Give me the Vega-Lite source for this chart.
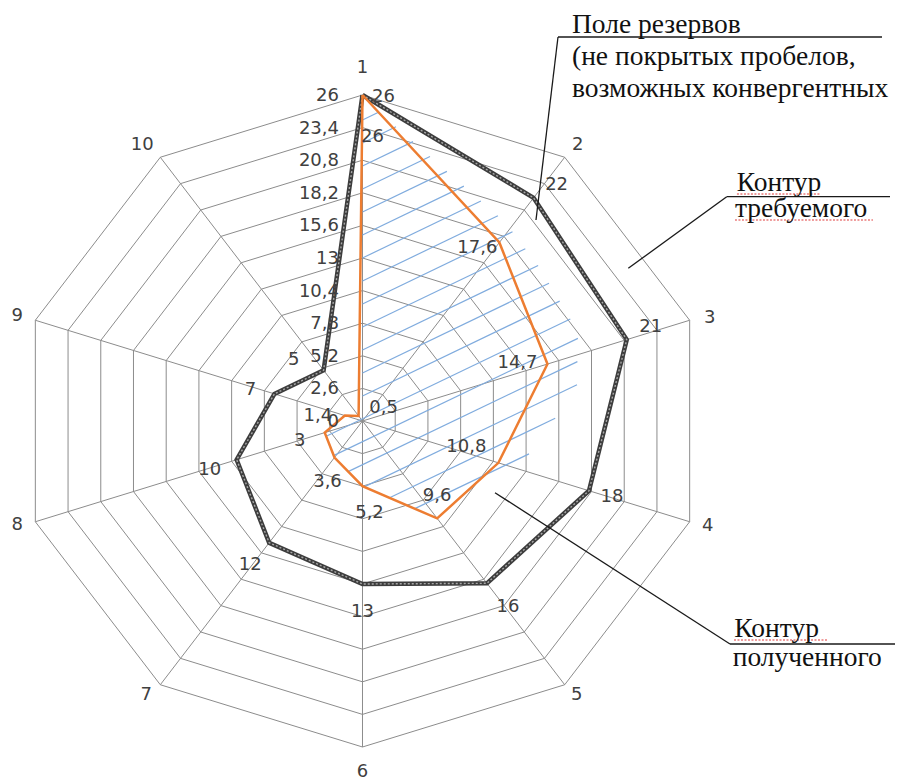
{
  "$schema": "https://vega.github.io/schema/vega-lite/v6.json",
  "width": 905,
  "height": 781,
  "padding": 0,
  "autosize": {"type": "none"},
  "background": "white",
  "config": {
    "view": {"stroke": null},
    "locale": {"number": {"decimal": ",", "thousands": " ", "grouping": [3], "currency": ["", ""]}},
    "text": {"fontSize": 18, "fill": "#404040", "align": "center", "baseline": "middle"}
  },
  "datasets": {
    "series": [
      {"s": "req", "k": 1, "v": 26}, {"s": "req", "k": 2, "v": 22}, {"s": "req", "k": 3, "v": 21},
      {"s": "req", "k": 4, "v": 18}, {"s": "req", "k": 5, "v": 16}, {"s": "req", "k": 6, "v": 13},
      {"s": "req", "k": 7, "v": 12}, {"s": "req", "k": 8, "v": 10}, {"s": "req", "k": 9, "v": 7},
      {"s": "req", "k": 10, "v": 5}, {"s": "req", "k": 11, "v": 26},
      {"s": "got", "k": 1, "v": 26}, {"s": "got", "k": 2, "v": 17.6}, {"s": "got", "k": 3, "v": 14.7},
      {"s": "got", "k": 4, "v": 10.8}, {"s": "got", "k": 5, "v": 9.6}, {"s": "got", "k": 6, "v": 5.2},
      {"s": "got", "k": 7, "v": 3.6}, {"s": "got", "k": 8, "v": 3}, {"s": "got", "k": 9, "v": 1.4},
      {"s": "got", "k": 10, "v": 0.5}, {"s": "got", "k": 11, "v": 26}
    ],
    "rings": [
      {"ring": 2.6, "k": [1,2,3,4,5,6,7,8,9,10,11]}, {"ring": 5.2, "k": [1,2,3,4,5,6,7,8,9,10,11]},
      {"ring": 7.8, "k": [1,2,3,4,5,6,7,8,9,10,11]}, {"ring": 10.4, "k": [1,2,3,4,5,6,7,8,9,10,11]},
      {"ring": 13, "k": [1,2,3,4,5,6,7,8,9,10,11]}, {"ring": 15.6, "k": [1,2,3,4,5,6,7,8,9,10,11]},
      {"ring": 18.2, "k": [1,2,3,4,5,6,7,8,9,10,11]}, {"ring": 20.8, "k": [1,2,3,4,5,6,7,8,9,10,11]},
      {"ring": 23.4, "k": [1,2,3,4,5,6,7,8,9,10,11]}, {"ring": 26, "k": [1,2,3,4,5,6,7,8,9,10,11]}
    ],
    "axes": [
      {"k": 1, "t": "1"}, {"k": 2, "t": "2"}, {"k": 3, "t": "3"}, {"k": 4, "t": "4"}, {"k": 5, "t": "5"},
      {"k": 6, "t": "6"}, {"k": 7, "t": "7"}, {"k": 8, "t": "8"}, {"k": 9, "t": "9"}, {"k": 10, "t": "10"}
    ],
    "ticks": [
      {"v": 0}, {"v": 2.6}, {"v": 5.2}, {"v": 7.8}, {"v": 10.4}, {"v": 13},
      {"v": 15.6}, {"v": 18.2}, {"v": 20.8}, {"v": 23.4}, {"v": 26}
    ],
    "hatch": [
      {"x": 0, "y": 24.01, "x2": 1.247, "y2": 24.65},
      {"x": 0, "y": 22.17, "x2": 2.532, "y2": 23.47},
      {"x": 0, "y": 20.34, "x2": 3.817, "y2": 22.28},
      {"x": 0, "y": 18.50, "x2": 5.102, "y2": 21.10},
      {"x": 0, "y": 16.67, "x2": 6.379, "y2": 19.91},
      {"x": 0, "y": 14.83, "x2": 7.664, "y2": 18.73},
      {"x": 0, "y": 13.00, "x2": 8.949, "y2": 17.55},
      {"x": 0, "y": 11.17, "x2": 10.234, "y2": 16.37},
      {"x": 0, "y": 9.331, "x2": 11.337, "y2": 15.09},
      {"x": 0, "y": 7.497, "x2": 12.305, "y2": 13.74},
      {"x": 0, "y": 5.663, "x2": 13.272, "y2": 12.40},
      {"x": 0, "y": 3.828, "x2": 14.096, "y2": 10.99},
      {"x": 0, "y": 1.994, "x2": 14.905, "y2": 9.562},
      {"x": -2.744, "y": -1.212, "x2": 15.706, "y2": 8.135},
      {"x": -2.192, "y": -2.759, "x2": 16.280, "y2": 6.588},
      {"x": -1.088, "y": -4.036, "x2": 16.242, "y2": 4.737},
      {"x": 0.128, "y": -5.256, "x2": 16.212, "y2": 2.887},
      {"x": 2.048, "y": -6.125, "x2": 14.565, "y2": 0.215},
      {"x": 3.960, "y": -6.986, "x2": 12.584, "y2": -2.624}
    ],
    "leaders": [
      {"x": 13.113, "y": 16.031, "x2": 14.776, "y2": 30.626},
      {"x": 14.776, "y": 30.626, "x2": 39.264, "y2": 30.626},
      {"x": 20.089, "y": 12.178, "x2": 27.527, "y2": 17.889},
      {"x": 27.527, "y": 17.889, "x2": 39.869, "y2": 17.889},
      {"x": 10.014, "y": -5.718, "x2": 27.776, "y2": -17.785},
      {"x": 27.776, "y": -17.785, "x2": 40.247, "y2": -17.785}
    ],
    "squiggles": [
      {"x": 28.30, "y": 18.104, "x2": 34.58, "y2": 18.104},
      {"x": 28.15, "y": 16.031, "x2": 38.58, "y2": 16.031},
      {"x": 28.078, "y": -17.466, "x2": 35.107, "y2": -17.466}
    ],
    "notes": [
      {"x": 15.834, "y": 30.944, "text": "Поле резервов"},
      {"x": 15.834, "y": 28.392, "text": "(не покрытых пробелов,"},
      {"x": 15.834, "y": 25.840, "text": "возможных конвергентных"},
      {"x": 28.282, "y": 18.367, "text": "Контур"},
      {"x": 28.154, "y": 16.294, "text": "требуемого"},
      {"x": 28.101, "y": -17.203, "text": "Контур"},
      {"x": 27.980, "y": -19.540, "text": "полученного"}
    ]
  },
  "encoding": {
    "x": {"field": "x", "type": "quantitative", "scale": {"domain": [-27.398, 41.003], "nice": false, "zero": false}, "axis": null},
    "y": {"field": "y", "type": "quantitative", "scale": {"domain": [-28.712, 33.577], "nice": false, "zero": false}, "axis": null}
  },
  "layer": [
    {"data": {"name": "rings"}, "transform": [{"flatten": ["k"]}, {"calculate": "datum.ring*sin((datum.k-1)*PI/5)", "as": "x"}, {"calculate": "datum.ring*cos((datum.k-1)*PI/5)", "as": "y"}],
     "mark": {"type": "line", "stroke": "#8c8c8c", "strokeWidth": 1},
     "encoding": {"detail": {"field": "ring"}, "order": {"field": "k", "type": "quantitative"}}},
    {"data": {"name": "axes"}, "transform": [{"calculate": "0", "as": "x"}, {"calculate": "0", "as": "y"}, {"calculate": "26*sin((datum.k-1)*PI/5)", "as": "x2"}, {"calculate": "26*cos((datum.k-1)*PI/5)", "as": "y2"}],
     "mark": {"type": "rule", "stroke": "#8c8c8c", "strokeWidth": 1},
     "encoding": {"x2": {"field": "x2"}, "y2": {"field": "y2"}}},
    {"data": {"name": "hatch"}, "mark": {"type": "rule", "stroke": "#80acde", "strokeWidth": 1.2},
     "encoding": {"x2": {"field": "x2"}, "y2": {"field": "y2"}}},
    {"data": {"name": "series"}, "transform": [{"filter": "datum.s=='req'"}, {"calculate": "datum.v*sin((datum.k-1)*PI/5)", "as": "x"}, {"calculate": "datum.v*cos((datum.k-1)*PI/5)", "as": "y"}],
     "mark": {"type": "line", "stroke": "#3d3d3d", "strokeWidth": 4.5, "strokeJoin": "miter"},
     "encoding": {"order": {"field": "k", "type": "quantitative"}}},
    {"data": {"name": "series"}, "transform": [{"filter": "datum.s=='req'"}, {"calculate": "datum.v*sin((datum.k-1)*PI/5)", "as": "x"}, {"calculate": "datum.v*cos((datum.k-1)*PI/5)", "as": "y"}],
     "mark": {"type": "line", "stroke": "#a8a8a8", "strokeWidth": 1.4, "strokeDash": [2, 2]},
     "encoding": {"order": {"field": "k", "type": "quantitative"}}},
    {"data": {"name": "series"}, "transform": [{"filter": "datum.s=='got'"}, {"calculate": "datum.v*sin((datum.k-1)*PI/5)", "as": "x"}, {"calculate": "datum.v*cos((datum.k-1)*PI/5)", "as": "y"}],
     "mark": {"type": "line", "stroke": "#ED7D31", "strokeWidth": 2.5},
     "encoding": {"order": {"field": "k", "type": "quantitative"}}},
    {"data": {"name": "leaders"}, "mark": {"type": "rule", "stroke": "#1a1a1a", "strokeWidth": 1.3},
     "encoding": {"x2": {"field": "x2"}, "y2": {"field": "y2"}}},
    {"data": {"name": "squiggles"}, "mark": {"type": "rule", "stroke": "#e03a3a", "strokeWidth": 1.2, "strokeDash": [2, 1.5]},
     "encoding": {"x2": {"field": "x2"}, "y2": {"field": "y2"}}},
    {"data": {"name": "notes"}, "mark": {"type": "text", "font": "Liberation Serif", "fontSize": 27.5, "fill": "#111111", "align": "left", "baseline": "alphabetic"},
     "encoding": {"text": {"field": "text"}}},
    {"data": {"name": "ticks"}, "transform": [{"calculate": "0", "as": "x"}, {"calculate": "datum.v", "as": "y"}],
     "mark": {"type": "text", "font": "DejaVu Sans", "align": "right", "dx": -23.5, "dy": 1},
     "encoding": {"text": {"field": "v", "type": "quantitative", "format": "~g"}}},

    {"data": {"name": "axes"}, "transform": [{"filter": "datum.k==1"}, {"calculate": "26*sin((datum.k-1)*PI/5)", "as": "x"}, {"calculate": "26*cos((datum.k-1)*PI/5)", "as": "y"}], "mark": {"type": "text", "font": "DejaVu Sans", "dx": 0, "dy": -27}, "encoding": {"text": {"field": "t"}}},
    {"data": {"name": "axes"}, "transform": [{"filter": "datum.k==2"}, {"calculate": "26*sin((datum.k-1)*PI/5)", "as": "x"}, {"calculate": "26*cos((datum.k-1)*PI/5)", "as": "y"}], "mark": {"type": "text", "font": "DejaVu Sans", "dx": 13, "dy": -12}, "encoding": {"text": {"field": "t"}}},
    {"data": {"name": "axes"}, "transform": [{"filter": "datum.k==3"}, {"calculate": "26*sin((datum.k-1)*PI/5)", "as": "x"}, {"calculate": "26*cos((datum.k-1)*PI/5)", "as": "y"}], "mark": {"type": "text", "font": "DejaVu Sans", "dx": 20, "dy": -2}, "encoding": {"text": {"field": "t"}}},
    {"data": {"name": "axes"}, "transform": [{"filter": "datum.k==4"}, {"calculate": "26*sin((datum.k-1)*PI/5)", "as": "x"}, {"calculate": "26*cos((datum.k-1)*PI/5)", "as": "y"}], "mark": {"type": "text", "font": "DejaVu Sans", "dx": 18, "dy": 4}, "encoding": {"text": {"field": "t"}}},
    {"data": {"name": "axes"}, "transform": [{"filter": "datum.k==5"}, {"calculate": "26*sin((datum.k-1)*PI/5)", "as": "x"}, {"calculate": "26*cos((datum.k-1)*PI/5)", "as": "y"}], "mark": {"type": "text", "font": "DejaVu Sans", "dx": 12, "dy": 10}, "encoding": {"text": {"field": "t"}}},
    {"data": {"name": "axes"}, "transform": [{"filter": "datum.k==6"}, {"calculate": "26*sin((datum.k-1)*PI/5)", "as": "x"}, {"calculate": "26*cos((datum.k-1)*PI/5)", "as": "y"}], "mark": {"type": "text", "font": "DejaVu Sans", "dx": 0, "dy": 25}, "encoding": {"text": {"field": "t"}}},
    {"data": {"name": "axes"}, "transform": [{"filter": "datum.k==7"}, {"calculate": "26*sin((datum.k-1)*PI/5)", "as": "x"}, {"calculate": "26*cos((datum.k-1)*PI/5)", "as": "y"}], "mark": {"type": "text", "font": "DejaVu Sans", "dx": -14, "dy": 10}, "encoding": {"text": {"field": "t"}}},
    {"data": {"name": "axes"}, "transform": [{"filter": "datum.k==8"}, {"calculate": "26*sin((datum.k-1)*PI/5)", "as": "x"}, {"calculate": "26*cos((datum.k-1)*PI/5)", "as": "y"}], "mark": {"type": "text", "font": "DejaVu Sans", "dx": -18, "dy": 3}, "encoding": {"text": {"field": "t"}}},
    {"data": {"name": "axes"}, "transform": [{"filter": "datum.k==9"}, {"calculate": "26*sin((datum.k-1)*PI/5)", "as": "x"}, {"calculate": "26*cos((datum.k-1)*PI/5)", "as": "y"}], "mark": {"type": "text", "font": "DejaVu Sans", "dx": -18, "dy": -4}, "encoding": {"text": {"field": "t"}}},
    {"data": {"name": "axes"}, "transform": [{"filter": "datum.k==10"}, {"calculate": "26*sin((datum.k-1)*PI/5)", "as": "x"}, {"calculate": "26*cos((datum.k-1)*PI/5)", "as": "y"}], "mark": {"type": "text", "font": "DejaVu Sans", "dx": -18, "dy": -12}, "encoding": {"text": {"field": "t"}}},

    {"data": {"name": "series"}, "transform": [{"filter": "datum.s=='req'&&datum.k==1"}, {"calculate": "datum.v*sin((datum.k-1)*PI/5)", "as": "x"}, {"calculate": "datum.v*cos((datum.k-1)*PI/5)", "as": "y"}], "mark": {"type": "text", "font": "DejaVu Sans", "dx": 21, "dy": 2}, "encoding": {"text": {"field": "v", "type": "quantitative", "format": "~g"}}},
    {"data": {"name": "series"}, "transform": [{"filter": "datum.s=='req'&&datum.k==2"}, {"calculate": "datum.v*sin((datum.k-1)*PI/5)", "as": "x"}, {"calculate": "datum.v*cos((datum.k-1)*PI/5)", "as": "y"}], "mark": {"type": "text", "font": "DejaVu Sans", "dx": 23, "dy": -13}, "encoding": {"text": {"field": "v", "type": "quantitative", "format": "~g"}}},
    {"data": {"name": "series"}, "transform": [{"filter": "datum.s=='req'&&datum.k==3"}, {"calculate": "datum.v*sin((datum.k-1)*PI/5)", "as": "x"}, {"calculate": "datum.v*cos((datum.k-1)*PI/5)", "as": "y"}], "mark": {"type": "text", "font": "DejaVu Sans", "dx": 24, "dy": -13}, "encoding": {"text": {"field": "v", "type": "quantitative", "format": "~g"}}},
    {"data": {"name": "series"}, "transform": [{"filter": "datum.s=='req'&&datum.k==4"}, {"calculate": "datum.v*sin((datum.k-1)*PI/5)", "as": "x"}, {"calculate": "datum.v*cos((datum.k-1)*PI/5)", "as": "y"}], "mark": {"type": "text", "font": "DejaVu Sans", "dx": 23, "dy": 6}, "encoding": {"text": {"field": "v", "type": "quantitative", "format": "~g"}}},
    {"data": {"name": "series"}, "transform": [{"filter": "datum.s=='req'&&datum.k==5"}, {"calculate": "datum.v*sin((datum.k-1)*PI/5)", "as": "x"}, {"calculate": "datum.v*cos((datum.k-1)*PI/5)", "as": "y"}], "mark": {"type": "text", "font": "DejaVu Sans", "dx": 21, "dy": 24}, "encoding": {"text": {"field": "v", "type": "quantitative", "format": "~g"}}},
    {"data": {"name": "series"}, "transform": [{"filter": "datum.s=='req'&&datum.k==6"}, {"calculate": "datum.v*sin((datum.k-1)*PI/5)", "as": "x"}, {"calculate": "datum.v*cos((datum.k-1)*PI/5)", "as": "y"}], "mark": {"type": "text", "font": "DejaVu Sans", "dx": 0, "dy": 28}, "encoding": {"text": {"field": "v", "type": "quantitative", "format": "~g"}}},
    {"data": {"name": "series"}, "transform": [{"filter": "datum.s=='req'&&datum.k==7"}, {"calculate": "datum.v*sin((datum.k-1)*PI/5)", "as": "x"}, {"calculate": "datum.v*cos((datum.k-1)*PI/5)", "as": "y"}], "mark": {"type": "text", "font": "DejaVu Sans", "dx": -19, "dy": 22}, "encoding": {"text": {"field": "v", "type": "quantitative", "format": "~g"}}},
    {"data": {"name": "series"}, "transform": [{"filter": "datum.s=='req'&&datum.k==8"}, {"calculate": "datum.v*sin((datum.k-1)*PI/5)", "as": "x"}, {"calculate": "datum.v*cos((datum.k-1)*PI/5)", "as": "y"}], "mark": {"type": "text", "font": "DejaVu Sans", "dx": -27, "dy": 10}, "encoding": {"text": {"field": "v", "type": "quantitative", "format": "~g"}}},
    {"data": {"name": "series"}, "transform": [{"filter": "datum.s=='req'&&datum.k==9"}, {"calculate": "datum.v*sin((datum.k-1)*PI/5)", "as": "x"}, {"calculate": "datum.v*cos((datum.k-1)*PI/5)", "as": "y"}], "mark": {"type": "text", "font": "DejaVu Sans", "dx": -24, "dy": -4}, "encoding": {"text": {"field": "v", "type": "quantitative", "format": "~g"}}},
    {"data": {"name": "series"}, "transform": [{"filter": "datum.s=='req'&&datum.k==10"}, {"calculate": "datum.v*sin((datum.k-1)*PI/5)", "as": "x"}, {"calculate": "datum.v*cos((datum.k-1)*PI/5)", "as": "y"}], "mark": {"type": "text", "font": "DejaVu Sans", "dx": -30, "dy": -10}, "encoding": {"text": {"field": "v", "type": "quantitative", "format": "~g"}}},

    {"data": {"name": "series"}, "transform": [{"filter": "datum.s=='got'&&datum.k==1"}, {"calculate": "datum.v*sin((datum.k-1)*PI/5)", "as": "x"}, {"calculate": "datum.v*cos((datum.k-1)*PI/5)", "as": "y"}], "mark": {"type": "text", "font": "DejaVu Sans", "dx": 10, "dy": 42}, "encoding": {"text": {"field": "v", "type": "quantitative", "format": "~g"}}},
    {"data": {"name": "series"}, "transform": [{"filter": "datum.s=='got'&&datum.k==2"}, {"calculate": "datum.v*sin((datum.k-1)*PI/5)", "as": "x"}, {"calculate": "datum.v*cos((datum.k-1)*PI/5)", "as": "y"}], "mark": {"type": "text", "font": "DejaVu Sans", "dx": -22, "dy": 6}, "encoding": {"text": {"field": "v", "type": "quantitative", "format": "~g"}}},
    {"data": {"name": "series"}, "transform": [{"filter": "datum.s=='got'&&datum.k==3"}, {"calculate": "datum.v*sin((datum.k-1)*PI/5)", "as": "x"}, {"calculate": "datum.v*cos((datum.k-1)*PI/5)", "as": "y"}], "mark": {"type": "text", "font": "DejaVu Sans", "dx": -30, "dy": -1}, "encoding": {"text": {"field": "v", "type": "quantitative", "format": "~g"}}},
    {"data": {"name": "series"}, "transform": [{"filter": "datum.s=='got'&&datum.k==4"}, {"calculate": "datum.v*sin((datum.k-1)*PI/5)", "as": "x"}, {"calculate": "datum.v*cos((datum.k-1)*PI/5)", "as": "y"}], "mark": {"type": "text", "font": "DejaVu Sans", "dx": -32, "dy": -16}, "encoding": {"text": {"field": "v", "type": "quantitative", "format": "~g"}}},
    {"data": {"name": "series"}, "transform": [{"filter": "datum.s=='got'&&datum.k==5"}, {"calculate": "datum.v*sin((datum.k-1)*PI/5)", "as": "x"}, {"calculate": "datum.v*cos((datum.k-1)*PI/5)", "as": "y"}], "mark": {"type": "text", "font": "DejaVu Sans", "dx": 0, "dy": -22}, "encoding": {"text": {"field": "v", "type": "quantitative", "format": "~g"}}},
    {"data": {"name": "series"}, "transform": [{"filter": "datum.s=='got'&&datum.k==6"}, {"calculate": "datum.v*sin((datum.k-1)*PI/5)", "as": "x"}, {"calculate": "datum.v*cos((datum.k-1)*PI/5)", "as": "y"}], "mark": {"type": "text", "font": "DejaVu Sans", "dx": 7, "dy": 27}, "encoding": {"text": {"field": "v", "type": "quantitative", "format": "~g"}}},
    {"data": {"name": "series"}, "transform": [{"filter": "datum.s=='got'&&datum.k==7"}, {"calculate": "datum.v*sin((datum.k-1)*PI/5)", "as": "x"}, {"calculate": "datum.v*cos((datum.k-1)*PI/5)", "as": "y"}], "mark": {"type": "text", "font": "DejaVu Sans", "dx": -7, "dy": 24}, "encoding": {"text": {"field": "v", "type": "quantitative", "format": "~g"}}},
    {"data": {"name": "series"}, "transform": [{"filter": "datum.s=='got'&&datum.k==8"}, {"calculate": "datum.v*sin((datum.k-1)*PI/5)", "as": "x"}, {"calculate": "datum.v*cos((datum.k-1)*PI/5)", "as": "y"}], "mark": {"type": "text", "font": "DejaVu Sans", "dx": -25, "dy": 8}, "encoding": {"text": {"field": "v", "type": "quantitative", "format": "~g"}}},
    {"data": {"name": "series"}, "transform": [{"filter": "datum.s=='got'&&datum.k==9"}, {"calculate": "datum.v*sin((datum.k-1)*PI/5)", "as": "x"}, {"calculate": "datum.v*cos((datum.k-1)*PI/5)", "as": "y"}], "mark": {"type": "text", "font": "DejaVu Sans", "dx": -27, "dy": 0}, "encoding": {"text": {"field": "v", "type": "quantitative", "format": "~g"}}},
    {"data": {"name": "series"}, "transform": [{"filter": "datum.s=='got'&&datum.k==10"}, {"calculate": "datum.v*sin((datum.k-1)*PI/5)", "as": "x"}, {"calculate": "datum.v*cos((datum.k-1)*PI/5)", "as": "y"}], "mark": {"type": "text", "font": "DejaVu Sans", "dx": 25, "dy": -8}, "encoding": {"text": {"field": "v", "type": "quantitative", "format": "~g"}}}
  ]
}
